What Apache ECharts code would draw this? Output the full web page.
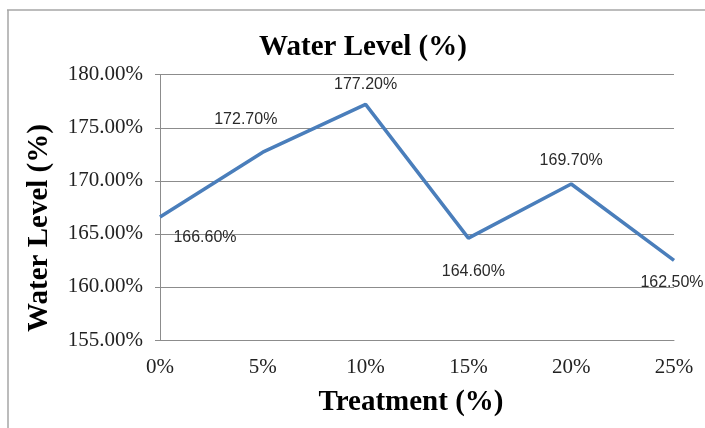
<!DOCTYPE html>
<html>
<head>
<meta charset="utf-8">
<script src="https://cdn.jsdelivr.net/npm/echarts@6/dist/echarts.min.js"></script>
<style>
  html, body { margin: 0; padding: 0; background: #fff; }
  #chart { width: 705px; height: 428px; }
</style>
</head>
<body>
<div id="chart"></div>
<script>
// Treatment levels and the measured water level at each one
const treatments = ['0%', '5%', '10%', '15%', '20%', '25%'];
const waterLevel = [166.6, 172.7, 177.2, 164.6, 169.7, 162.5];
// Where each value label sits relative to its point [dx, dy]
const labelOffsets = [[45, 21], [-17, -33], [0, -20], [5, 33], [0, -23], [-2, 22]];

const serif = '"Liberation Serif", "Times New Roman", serif';
const sans = '"Liberation Sans", Arial, sans-serif';
const gridGray = '#8c8c8c';

const chart = echarts.init(document.getElementById('chart'), null, { renderer: 'canvas' });

chart.setOption({
  backgroundColor: '#ffffff',
  animation: false,
  grid: { left: 160, right: 31, top: 74.7, bottom: 88, containLabel: false },
  xAxis: {
    type: 'category',
    data: treatments,
    boundaryGap: false,
    axisLine: { show: true, lineStyle: { color: gridGray, width: 1 } },
    axisTick: { show: false },
    axisLabel: { color: '#222', fontFamily: serif, fontSize: 21, margin: 17 },
    splitLine: { show: false }
  },
  yAxis: {
    type: 'value',
    min: 155,
    max: 180,
    interval: 5,
    axisLine: { show: true, lineStyle: { color: gridGray, width: 1 } },
    axisTick: { show: true, length: 5, lineStyle: { color: gridGray } },
    axisLabel: {
      color: '#222', fontFamily: serif, fontSize: 21, margin: 17,
      formatter: v => v.toFixed(2) + '%'
    },
    splitLine: { show: true, lineStyle: { color: gridGray, width: 1 } }
  },
  series: [{
    type: 'line',
    data: waterLevel.map((v, i) => ({
      value: v,
      label: { offset: labelOffsets[i] }
    })),
    symbol: 'circle',
    symbolSize: 0.1,
    itemStyle: { color: '#4a7ebb' },
    lineStyle: { color: '#4a7ebb', width: 3.5 },
    label: {
      show: true,
      position: 'inside',
      color: '#2a2a2a',
      fontFamily: sans,
      fontSize: 16,
      formatter: p => p.value.toFixed(2) + '%'
    }
  }],
  graphic: [
    // frame around the chart area
    { type: 'line', shape: { x1: 7, y1: 10, x2: 705, y2: 10 }, style: { stroke: '#a6a6a6', lineWidth: 1.5 } },
    { type: 'line', shape: { x1: 8, y1: 10, x2: 8, y2: 428 }, style: { stroke: '#a6a6a6', lineWidth: 1.5 } },
    // chart title
    {
      type: 'text', x: 363, y: 48,
      style: { text: 'Water Level (%)', fontFamily: serif, fontWeight: 'bold', fontSize: 29,
               fill: '#000', textAlign: 'center', textVerticalAlign: 'middle' }
    },
    // x-axis title
    {
      type: 'text', x: 411, y: 403,
      style: { text: 'Treatment (%)', fontFamily: serif, fontWeight: 'bold', fontSize: 29,
               fill: '#000', textAlign: 'center', textVerticalAlign: 'middle' }
    },
    // y-axis title
    {
      type: 'text', x: 40, y: 228, rotation: Math.PI / 2,
      style: { text: 'Water Level (%)', fontFamily: serif, fontWeight: 'bold', fontSize: 29,
               fill: '#000', textAlign: 'center', textVerticalAlign: 'middle' }
    }
  ]
});
</script>
</body>
</html>
